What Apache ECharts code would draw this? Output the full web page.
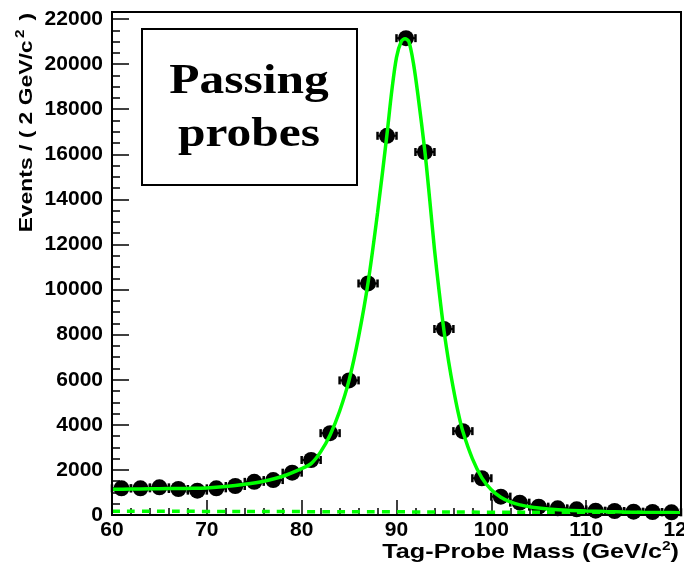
<!DOCTYPE html>
<html><head><meta charset="utf-8">
<script src="https://cdn.jsdelivr.net/npm/echarts@6/dist/echarts.min.js"></script>
<style>html,body{margin:0;padding:0;background:#fff}#c{width:684px;height:566px}</style>
</head><body><div id="c"></div>
<script>
// Data
const binCenters = [61,63,65,67,69,71,73,75,77,79,81,83,85,87,89,91,93,95,97,99,101,103,105,107,109,111,113,115,117,119];
const binHalfWidth = 1;
const counts = [1183,1183,1227,1153,1080,1183,1286,1470,1550,1877,2440,3630,5970,10270,16820,21150,16100,8250,3720,1630,815,548,370,296,252,193,178,148,133,118];

const fitMass  = [60,62,64,66,68,70,72,74,76,78,80,81,82,83,84,85,86,87,88,89,89.5,90,90.5,90.9,91.3,91.8,92.3,93,93.5,94,94.5,95,95.5,96,96.5,97,98,99,100,101,102,103,104,105,106,108,110,112,114,116,118,120];
const fitValue = [1140,1150,1160,1170,1180,1200,1260,1360,1500,1720,2060,2280,2800,3550,4600,5980,7900,10300,13400,16900,18800,20300,21000,21120,21000,20000,18500,16100,14000,11800,9900,8200,6800,5600,4550,3700,2500,1650,1120,790,580,450,370,310,270,215,180,155,135,120,110,100];

const bkgMass  = [60,70,80,90,100,110,120];
const bkgValue = [170,160,150,140,125,112,100];

const xTickValues = [60,70,80,90,100,110,120];
const yTickValues = [0,2000,4000,6000,8000,10000,12000,14000,16000,18000,20000,22000];

const titleLines = ['Passing', 'probes'];
const xTitle = 'Tag-Probe Mass (GeV/c';
const yTitle = 'Events / ( 2 GeV/c';

const chart = echarts.init(document.getElementById('c'), null, {renderer: 'canvas'});

const labelFont = {fontFamily: 'Liberation Sans', fontWeight: 'bold', fontSize: 21, color: '#000'};

const option = {
  animation: false,
  backgroundColor: '#fff',
  grid: {left: 112, right: 3, top: 19, bottom: 51, containLabel: false, outerBoundsMode: 'none'},
  xAxis: {
    type: 'value', min: xTickValues[0], max: xTickValues[xTickValues.length-1], interval: 10,
    axisLine: {show: true, onZero: false, lineStyle: {color: '#000', width: 2}},
    axisTick: {show: true, inside: true, length: 15, lineStyle: {color: '#000', width: 1.5}},
    minorTick: {show: true, splitNumber: 5, length: 7, lineStyle: {color: '#000', width: 1.5}},
    splitLine: {show: false},
    axisLabel: Object.assign({margin: 5, hideOverlap: false, formatter: v => xTickValues.includes(v) ? String(v) : ''}, labelFont)
  },
  yAxis: {
    type: 'value', min: yTickValues[0], max: yTickValues[yTickValues.length-1], interval: 2000,
    axisLine: {show: true, onZero: false, lineStyle: {color: '#000', width: 2}},
    axisTick: {show: true, inside: true, length: 17, lineStyle: {color: '#000', width: 1.5}},
    minorTick: {show: true, splitNumber: 4, length: 8, lineStyle: {color: '#000', width: 1.5}},
    splitLine: {show: false},
    axisLabel: Object.assign({margin: 9, formatter: v => yTickValues.includes(v) ? String(v) : ''}, labelFont)
  },
  series: [
    {
      type: 'custom',
      name: 'errors',
      coordinateSystem: 'cartesian2d',
      data: binCenters.map((m, i) => [m, counts[i]]),
      renderItem: function (params, api) {
        const m = api.value(0), v = api.value(1);
        const p1 = api.coord([m - binHalfWidth, v]);
        const p2 = api.coord([m + binHalfWidth, v]);
        const h = 4;
        const st = {stroke: '#000', lineWidth: 2};
        return {type: 'group', children: [
          {type: 'line', shape: {x1: p1[0], y1: p1[1], x2: p2[0], y2: p2[1]}, style: st},
          {type: 'line', shape: {x1: p1[0], y1: p1[1]-h, x2: p1[0], y2: p1[1]+h}, style: {stroke: '#000', lineWidth: 2.5}},
          {type: 'line', shape: {x1: p2[0], y1: p2[1]-h, x2: p2[0], y2: p2[1]+h}, style: {stroke: '#000', lineWidth: 2.5}}
        ]};
      },
      z: 2
    },
    {
      type: 'scatter',
      name: 'data',
      data: binCenters.map((m, i) => [m, counts[i]]),
      symbol: 'circle', symbolSize: 16,
      itemStyle: {color: '#000', opacity: 1},
      z: 3
    },
    {
      type: 'line',
      name: 'background',
      data: bkgMass.map((m, i) => [m, bkgValue[i]]),
      showSymbol: false, smooth: true,
      lineStyle: {color: '#00ff00', width: 3.5, type: [8, 7]},
      z: 4
    },
    {
      type: 'line',
      name: 'fit',
      data: fitMass.map((m, i) => [m, fitValue[i]]),
      showSymbol: false, smooth: 0.3,
      lineStyle: {color: '#00ff00', width: 3.5},
      z: 5
    }
  ],
  graphic: [
    {type: 'rect', shape: {x: 112, y: 12, width: 569, height: 503}, style: {fill: 'none', stroke: '#000', lineWidth: 2}, z: 10, silent: true},
    {type: 'rect', shape: {x: 142, y: 29, width: 215, height: 156}, style: {fill: '#fff', stroke: '#000', lineWidth: 2}, z: 10},
    {type: 'text', x: 249, y: 82, scaleX: 1.15, z: 11,
      style: {text: titleLines[0], font: 'bold 43px "Liberation Serif"', fill: '#000', align: 'center', verticalAlign: 'middle'}},
    {type: 'text', x: 249, y: 135, scaleX: 1.15, z: 11,
      style: {text: titleLines[1], font: 'bold 43px "Liberation Serif"', fill: '#000', align: 'center', verticalAlign: 'middle'}},
    {type: 'text', x: 27, y: 13, rotation: Math.PI / 2, scaleX: 1.27, z: 11,
      style: {text: '{a|' + yTitle + '}{s|2}{a| )}', align: 'right', verticalAlign: 'middle',
        rich: {a: {fontFamily: 'Liberation Sans', fontWeight: 'bold', fontSize: 18, color: '#000', lineHeight: 24},
               s: {fontFamily: 'Liberation Sans', fontWeight: 'bold', fontSize: 12, color: '#000', verticalAlign: 'top', lineHeight: 24, padding: [0, 2, 0, 2]}}}},
    {type: 'text', x: 679, y: 552, scaleX: 1.2, z: 11,
      style: {text: '{a|' + xTitle + '}{s|2}{a|)}', align: 'right', verticalAlign: 'middle',
        rich: {a: {fontFamily: 'Liberation Sans', fontWeight: 'bold', fontSize: 21, color: '#000', lineHeight: 24},
               s: {fontFamily: 'Liberation Sans', fontWeight: 'bold', fontSize: 13, color: '#000', verticalAlign: 'top', lineHeight: 24}}}}
  ]
};
chart.setOption(option);
</script>
</body></html>
